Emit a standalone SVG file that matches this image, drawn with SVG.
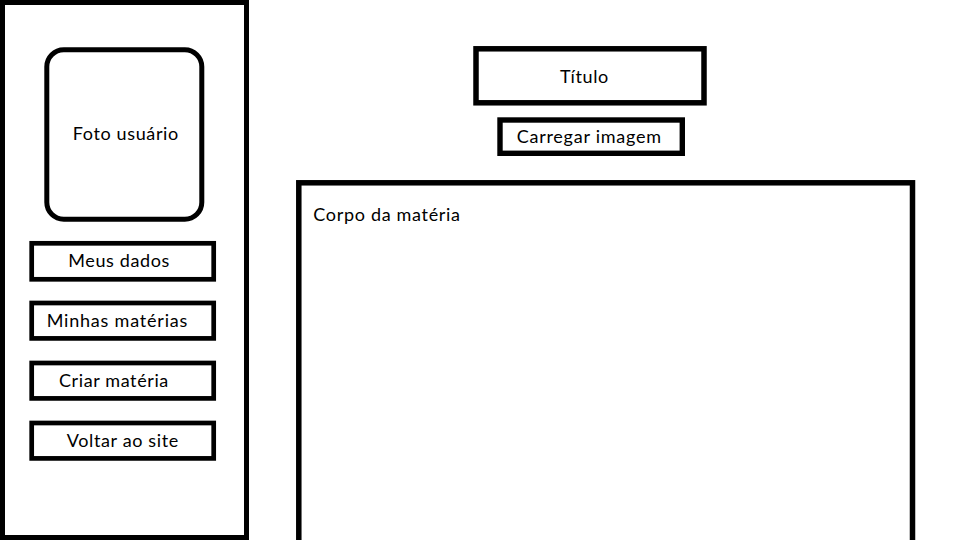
<svg xmlns="http://www.w3.org/2000/svg" width="960" height="540" viewBox="0 0 960 540">
<style>
.box{fill:#fff;stroke:#000;stroke-width:5}
.thin{stroke-width:4.7}
.lbl{font-family:Lato,"Liberation Sans",sans-serif;font-size:18px;fill:#000}
</style>
<rect x="0" y="0" width="960" height="540" fill="#fff"/>
<g id="sidebar">
<rect class="box" x="2.5" y="2.5" width="244" height="535"/>
</g>
<g id="foto">
<rect class="box" x="46.8" y="49.8" width="155" height="169.5" rx="17" ry="17"/>
<text class="lbl" x="72.7" y="140" textLength="105.6">Foto usuário</text>
</g>
<g id="meus-dados">
<rect class="box thin" x="31.7" y="243.3" width="182" height="36"/>
<text class="lbl" x="68.3" y="267.3" textLength="101">Meus dados</text>
</g>
<g id="minhas-materias">
<rect class="box thin" x="31.7" y="303" width="182" height="35.4"/>
<text class="lbl" x="46.7" y="326.7" textLength="140.6">Minhas matérias</text>
</g>
<g id="criar-materia">
<rect class="box thin" x="31.7" y="363" width="182" height="35.4"/>
<text class="lbl" x="59" y="386.7" textLength="109.3">Criar matéria</text>
</g>
<g id="voltar-ao-site">
<rect class="box thin" x="31.7" y="423" width="182" height="35.4"/>
<text class="lbl" x="66.7" y="447.3" textLength="111.6">Voltar ao site</text>
</g>
<g id="titulo">
<rect class="box" style="stroke-width:5.5" x="476" y="48.8" width="228" height="54"/>
<text class="lbl" x="560" y="82.7" textLength="48.3">Título</text>
</g>
<g id="carregar-imagem">
<rect class="box" style="stroke-width:5.4" x="500" y="120" width="182.3" height="33.3"/>
<text class="lbl" x="516.7" y="143.3" textLength="144.3">Carregar imagem</text>
</g>
<g id="corpo">
<rect class="box" style="stroke-width:5.5" x="298.8" y="182.8" width="613.7" height="400"/>
<text class="lbl" x="313.3" y="220.7" textLength="146.7">Corpo da matéria</text>
</g>
<g id="connectors"/>
</svg>
